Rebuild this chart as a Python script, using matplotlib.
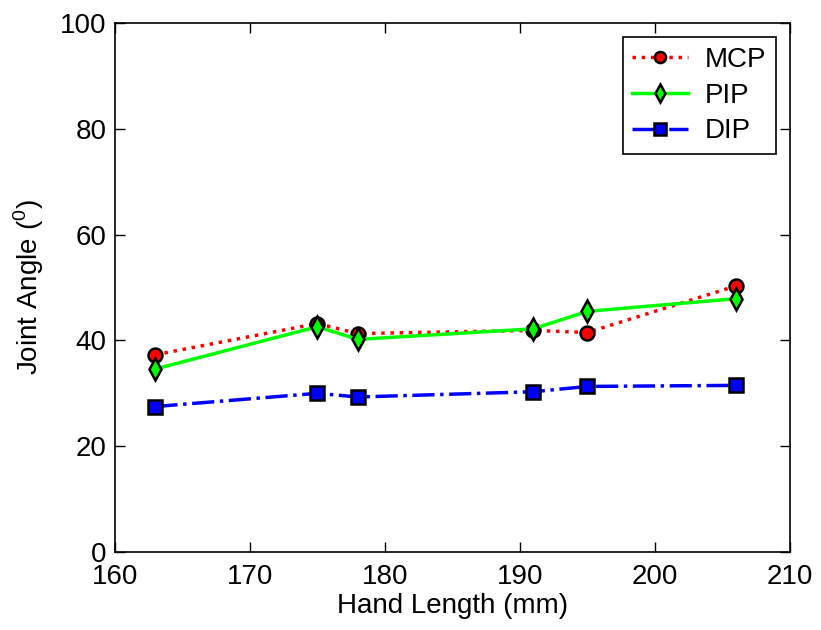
import matplotlib.pyplot as plt

plt.rcParams['font.family'] = ['Liberation Sans', 'DejaVu Sans']
plt.rcParams['mathtext.fontset'] = 'custom'
plt.rcParams['mathtext.rm'] = 'Liberation Sans'

hand_length = [163, 175, 178, 191, 195, 206]
mcp = [37.3, 43.2, 41.3, 41.9, 41.5, 50.3]
pip = [34.6, 42.6, 40.2, 42.2, 45.5, 47.9]
dip = [27.5, 30.0, 29.3, 30.3, 31.3, 31.5]

fig = plt.figure(figsize=(8.21, 6.3), dpi=100)
ax = fig.add_axes([0.140, 0.124, 0.822, 0.839])

ax.plot(hand_length, mcp, ':', color='red', lw=2.5, marker='o', ms=10,
        mfc='red', mec='black', mew=1.8, label='MCP')
ax.plot(hand_length, pip, '-', color='#00ff00', lw=2.5, marker='d', ms=11,
        mfc='#00ff00', mec='black', mew=1.8, label='PIP')
ax.plot(hand_length, dip, '-.', color='blue', lw=2.5, marker='s', ms=10,
        mfc='blue', mec='black', mew=1.8, label='DIP')

ax.set_xlim(160, 210)
ax.set_ylim(0, 100)
ax.set_xticks([160, 170, 180, 190, 200, 210])
ax.set_yticks([0, 20, 40, 60, 80, 100])
ax.tick_params(direction='in', top=True, right=True, labelsize=20, length=7, width=1)
ax.tick_params(axis='x', pad=9)
ax.tick_params(axis='y', pad=6)
for s in ax.spines.values():
    s.set_linewidth(1.2)

ax.set_xlabel('Hand Length (mm)', fontsize=20, labelpad=2)
ax.set_ylabel('Joint Angle ($^{\\rm 0}$)', fontsize=20, labelpad=10)

leg = ax.legend(loc='upper right', fontsize=20, fancybox=False, framealpha=1,
                edgecolor='black', handlelength=2.0, handletextpad=0.6,
                borderaxespad=0.5, borderpad=0.35, labelspacing=0.35,
                markerscale=0.8)
leg.get_frame().set_linewidth(1.2)

fig.savefig('out.png')
